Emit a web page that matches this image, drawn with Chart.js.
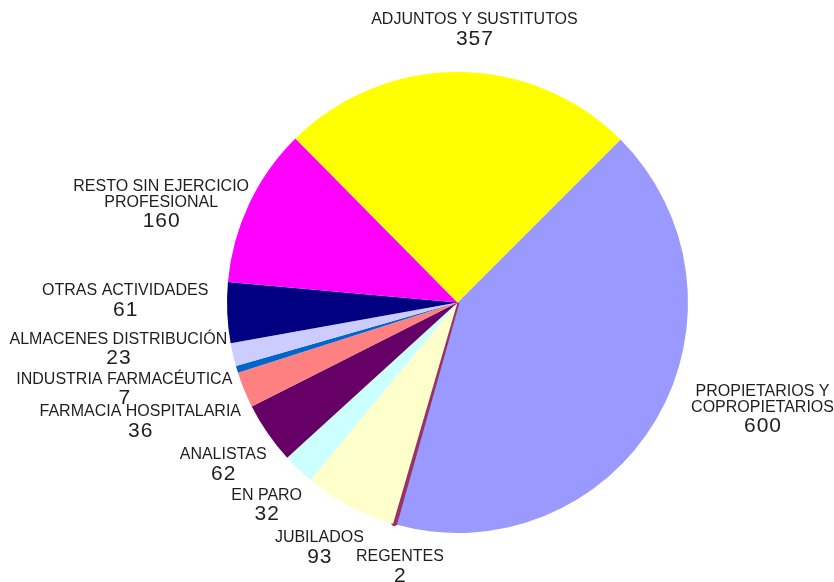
<!DOCTYPE html>
<html>
<head>
<meta charset="utf-8">
<script src="https://cdn.jsdelivr.net/npm/chart.js@4"></script>
<style>
  html, body { margin: 0; padding: 0; background: #ffffff; }
  #wrap { width: 834px; height: 582px; position: relative; }
</style>
</head>
<body>
<div id="wrap"><canvas id="c" width="834" height="582"></canvas></div>
<script>
// ---- data ----
const categories = [
  ["PROPIETARIOS Y", "COPROPIETARIOS"],
  ["REGENTES"],
  ["JUBILADOS"],
  ["EN PARO"],
  ["ANALISTAS"],
  ["FARMACIA HOSPITALARIA"],
  ["INDUSTRIA FARMACÉUTICA"],
  ["ALMACENES DISTRIBUCIÓN"],
  ["OTRAS ACTIVIDADES"],
  ["RESTO SIN EJERCICIO", "PROFESIONAL"],
  ["ADJUNTOS Y SUSTITUTOS"]
];
const values = [600, 2, 93, 32, 62, 36, 7, 23, 61, 160, 357];
const colors = ["#9999FF", "#993366", "#FFFFCC", "#CCFFFF", "#660066", "#FF8080",
                "#0066CC", "#CCCCFF", "#000080", "#FF00FF", "#FFFF00"];

// ---- label layout nudges (px, applied to the geometric anchor) ----
const labelNudge = [[29,-32],[23,8],[-1,10],[5,10],[6,11],[6,18],[8,9],[9,-14],[-1,-14],[8,18],[16,-7]];
// thin slices get a same-colour outline so they stay visible
const sliceBorder = [0, 4, 0, 0, 0, 0, 0, 0, 0, 0, 0];

const NAME_FONT = "16px 'Liberation Sans', Arial, sans-serif";
const NUM_FONT = "21px 'Liberation Sans', Arial, sans-serif";
const TEXT_COLOR = "#1e1e1e";

const outsideLabels = {
  id: 'outsideLabels',
  afterDraw(chart) {
    const ctx = chart.ctx;
    const meta = chart.getDatasetMeta(0);
    ctx.save();
    ctx.fillStyle = TEXT_COLOR;
    ctx.textAlign = 'center';
    ctx.textBaseline = 'middle';
    meta.data.forEach((arc, i) => {
      const mid = (arc.startAngle + arc.endAngle) / 2;
      const ux = Math.cos(mid), uy = Math.sin(mid);
      const lines = categories[i];
      ctx.font = NAME_FONT;
      ctx.letterSpacing = '0px';
      let w = 0;
      lines.forEach(l => { w = Math.max(w, ctx.measureText(l).width); });
      const h = (lines.length - 1) * 16 + 19 + 16;
      const R = arc.outerRadius + 18;
      const px = arc.x + ux * R, py = arc.y + uy * R;
      const cx = px + ux * w / 2 + labelNudge[i][0];
      const cy = py + uy * h / 2 + labelNudge[i][1];
      const span = (lines.length - 1) * 16 + 19;
      const y = cy - span / 2;
      lines.forEach((l, k) => { ctx.fillText(l, cx, y + k * 16); });
      ctx.font = NUM_FONT;
      ctx.letterSpacing = '1px';
      ctx.fillText(String(values[i]), cx + 0.5, y + (lines.length - 1) * 16 + 19);
    });
    ctx.restore();
  }
};

new Chart(document.getElementById('c'), {
  type: 'pie',
  data: {
    labels: categories.map(l => l.join(' ')),
    datasets: [{
      data: values,
      backgroundColor: colors,
      borderColor: colors,
      borderWidth: sliceBorder
    }]
  },
  options: {
    responsive: false,
    animation: false,
    rotation: 45,
    layout: { padding: { left: 225, right: 144, top: 70, bottom: 47 } },
    plugins: { legend: { display: false }, tooltip: { enabled: false } }
  },
  plugins: [outsideLabels]
});
</script>
</body>
</html>
